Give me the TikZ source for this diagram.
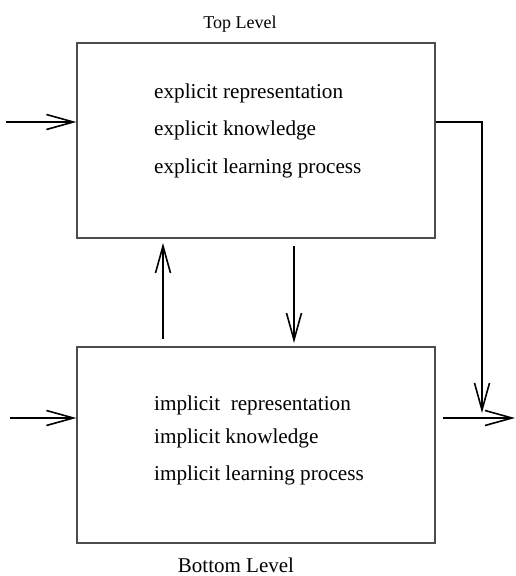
\documentclass[tikz,border=0pt]{standalone}
\usepackage{fontspec}
\setmainfont{Liberation Serif}
\usetikzlibrary{arrows.meta}
\begin{document}
\begin{tikzpicture}[x=1pt,y=-1pt,
  levelbox/.style={draw=black!70,line width=1.2pt,inner sep=0pt,minimum width=358pt},
  flow/.style={line width=1.6pt,-{Straight Barb[length=27pt,width=15pt,line width=1.6pt]}},
  item/.style={anchor=base west,inner sep=0pt,font=\fontsize{21.2}{24}\selectfont},
  caption/.style={anchor=base,inner sep=0pt}]
\useasboundingbox (0,0) rectangle (516,576);
\node[levelbox,minimum height=195pt] (top) at (256,140.5) {};
\node[levelbox,minimum height=196pt] (bot) at (256,445) {};
\node[caption,font=\fontsize{18}{20}\selectfont] (toplab) at (240,28) {Top Level};
\node[caption,font=\fontsize{21}{24}\selectfont] (botlab) at (236,572) {Bottom Level};
\node[item] (e1) at (154,98) {explicit representation};
\node[item] (e2) at (154,135) {explicit knowledge};
\node[item] (e3) at (154,173) {explicit learning process};
\node[item] (i1) at (154,410) {implicit\ \ representation};
\node[item] (i2) at (154,443) {implicit knowledge};
\node[item] (i3) at (154,480) {implicit learning process};
\coordinate (inA) at (6,122);
\coordinate (inB) at (10,418);
\coordinate (corner) at (482,122);
\coordinate (merge) at (482,413);
\coordinate (outS) at (443,418);
\coordinate (outE) at (515,418);
\coordinate (upS) at (163,339);
\coordinate (upE) at (163,243);
\coordinate (dnS) at (294,246);
\coordinate (dnE) at (294,343);
\draw[flow] (inA) -- (inA -| top.west);
\draw[flow] (inB) -- (inB -| bot.west);
\draw[flow] (inA -| top.east) -- (corner) -- (merge);
\draw[flow] (outS) -- (outE);
\draw[flow] (upS) -- (upE);
\draw[flow] (dnS) -- (dnE);
\end{tikzpicture}
\end{document}
